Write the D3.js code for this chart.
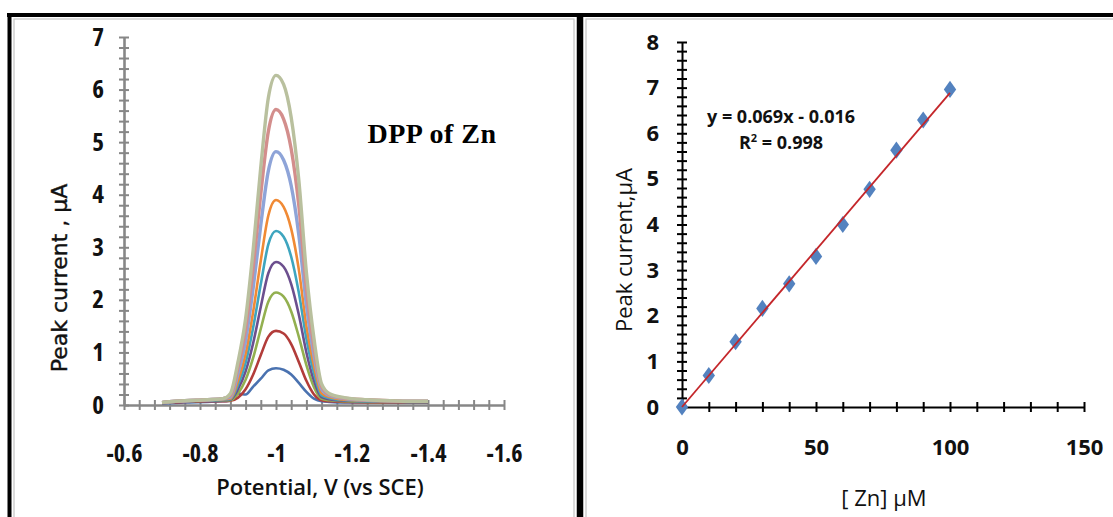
<!DOCTYPE html>
<html>
<head>
<meta charset="utf-8">
<script src="https://cdn.jsdelivr.net/npm/d3@7"></script>
<style>
  body { margin: 0; background: #fff; }
  svg { display: block; }
  .calib { font-family: 'Open Sans', sans-serif; font-stretch: 85%; }
  .calib-wide { font-family: 'Open Sans', sans-serif; font-stretch: 100%; }
</style>
</head>
<body>
<svg id="fig" width="1113" height="517"></svg>
<script>
// ---- data ----
var potentials = [-0.70, -0.76, -0.82, -0.86, -0.88, -0.90, -0.92, -0.94, -0.96, -0.98, -1.00,
                  -1.02, -1.04, -1.06, -1.08, -1.10, -1.12, -1.14, -1.18, -1.24, -1.30, -1.36, -1.40];

var curve1 = [0.03, 0.05, 0.06, 0.07, 0.08, 0.22, 0.20, 0.35, 0.50, 0.66, 0.70, 0.67, 0.58, 0.42, 0.25, 0.12, 0.07, 0.06, 0.05, 0.05, 0.05, 0.05, 0.05];
var curve2 = [0.04, 0.06, 0.07, 0.07, 0.08, 0.14, 0.30, 0.58, 0.95, 1.30, 1.41, 1.36, 1.16, 0.82, 0.46, 0.20, 0.09, 0.07, 0.06, 0.05, 0.05, 0.05, 0.05];
var curve3 = [0.04, 0.07, 0.08, 0.08, 0.09, 0.22, 0.48, 0.90, 1.45, 1.97, 2.14, 2.06, 1.78, 1.30, 0.76, 0.34, 0.12, 0.09, 0.07, 0.06, 0.06, 0.06, 0.06];
var curve4 = [0.05, 0.07, 0.09, 0.09, 0.10, 0.30, 0.64, 1.18, 1.87, 2.51, 2.72, 2.63, 2.30, 1.72, 1.00, 0.46, 0.15, 0.11, 0.08, 0.07, 0.06, 0.06, 0.06];
var curve5 = [0.05, 0.07, 0.09, 0.10, 0.11, 0.38, 0.80, 1.48, 2.30, 3.06, 3.31, 3.20, 2.82, 2.14, 1.26, 0.60, 0.18, 0.13, 0.09, 0.07, 0.07, 0.06, 0.06];
var curve6 = [0.05, 0.08, 0.10, 0.11, 0.12, 0.46, 0.97, 1.78, 2.75, 3.61, 3.90, 3.77, 3.35, 2.58, 1.50, 0.74, 0.22, 0.15, 0.10, 0.08, 0.07, 0.07, 0.07];
var curve7 = [0.05, 0.08, 0.10, 0.12, 0.15, 0.60, 1.22, 2.23, 3.43, 4.46, 4.82, 4.66, 4.17, 3.24, 1.90, 0.94, 0.30, 0.18, 0.12, 0.09, 0.08, 0.07, 0.07];
var curve8 = [0.05, 0.08, 0.10, 0.12, 0.18, 0.72, 1.45, 2.62, 4.02, 5.21, 5.62, 5.44, 4.87, 3.80, 2.22, 1.10, 0.35, 0.20, 0.13, 0.10, 0.08, 0.07, 0.07];
var curve9 = [0.05, 0.08, 0.10, 0.12, 0.22, 0.82, 1.64, 2.96, 4.53, 5.85, 6.27, 6.10, 5.47, 4.28, 2.52, 1.26, 0.40, 0.22, 0.14, 0.10, 0.08, 0.07, 0.07];
var curveColors = ["#4a72b0", "#b23c3a", "#93b050", "#6c4f8e", "#3ea5bf", "#f08a35", "#8ea4d8", "#d38e8c", "#b9c09e"];

var concentrations = [0, 10, 20, 30, 40, 50, 60, 70, 80, 90, 100];
var peakCurrents   = [0, 0.69, 1.43, 2.16, 2.70, 3.30, 4.00, 4.77, 5.63, 6.29, 6.96];
var fitSlope = 0.069, fitIntercept = -0.016;

var leftXTicks  = [-0.6, -0.8, -1, -1.2, -1.4, -1.6];
var leftYTicks  = [0, 1, 2, 3, 4, 5, 6, 7];
var rightXTicks = [0, 50, 100, 150];
var rightYTicks = [0, 1, 2, 3, 4, 5, 6, 7, 8];

var svg = d3.select("#fig");

// ---- frames ----
svg.append("rect").attr("x", 14).attr("y", 19).attr("width", 560).attr("height", 520)
   .attr("fill", "none").attr("stroke", "#c4c4c4").attr("stroke-width", 1.2);
svg.append("rect").attr("x", 586).attr("y", 19).attr("width", 540).attr("height", 520)
   .attr("fill", "none").attr("stroke", "#c4c4c4").attr("stroke-width", 1.2);
svg.append("line").attr("x1", 7).attr("x2", 1113).attr("y1", 15).attr("y2", 15)
   .attr("stroke", "#000").attr("stroke-width", 4);
svg.append("line").attr("x1", 9.5).attr("x2", 9.5).attr("y1", 13).attr("y2", 517)
   .attr("stroke", "#000").attr("stroke-width", 4);
svg.append("line").attr("x1", 580).attr("x2", 580).attr("y1", 13).attr("y2", 517)
   .attr("stroke", "#000").attr("stroke-width", 6.5);

// cross ticks (Excel "cross" tick marks) drawn with an axis shifted half a tick
function crossTicksX(scale, yPos, values, color)
{
  svg.append("g").attr("transform", "translate(0," + (yPos - 5) + ")")
     .call(d3.axisBottom(scale).tickValues(values).tickSize(10).tickFormat(""))
     .call(function(g) {
        g.select(".domain").remove();
        g.selectAll("line").attr("stroke", color).attr("stroke-width", 2);
     });
}
function crossTicksY(scale, xPos, values, color)
{
  svg.append("g").attr("transform", "translate(" + (xPos + 5) + ",0)")
     .call(d3.axisLeft(scale).tickValues(values).tickSize(10).tickFormat(""))
     .call(function(g) {
        g.select(".domain").remove();
        g.selectAll("line").attr("stroke", color).attr("stroke-width", 2);
     });
}

// styles the label axis: domain line + tick text
function styleAxis(g, color, width, cls, size)
{
  g.attr("font-family", null);
  g.select(".domain").attr("stroke", color).attr("stroke-width", width);
  g.selectAll("text").attr("class", cls).attr("font-weight", "bold")
   .attr("font-size", size).attr("fill", "#111");
}

// ================= left: DPP curves =================
var lx = d3.scaleLinear().domain([-0.6, -1.6]).range([124, 504]);
var ly = d3.scaleLinear().domain([0, 7]).range([405, 37]);
var leftGrey = "#878787";

crossTicksX(lx, ly(0), d3.range(26).map(function(i) {return -0.6 - i * 0.04;}), leftGrey);
crossTicksY(ly, lx(-0.6), d3.range(36).map(function(i) {return i * 0.2;}), leftGrey);

svg.append("g").attr("transform", "translate(0," + ly(0) + ")")
   .call(d3.axisBottom(lx).tickValues(leftXTicks).tickSize(0).tickPadding(40)
           .tickFormat(function(d) {return String(d);}))
   .call(styleAxis, leftGrey, 2.6, "calib", 24);
svg.append("g").attr("transform", "translate(" + lx(-0.6) + ",0)")
   .call(d3.axisLeft(ly).tickValues(leftYTicks).tickSize(0).tickPadding(20).tickFormat(d3.format("d")))
   .call(styleAxis, leftGrey, 2.6, "calib", 25);

var curves = [curve1, curve2, curve3, curve4, curve5, curve6, curve7, curve8, curve9];
var line = d3.line()
             .x(function(d) {return lx(d[0]);})
             .y(function(d) {return ly(d[1]);})
             .curve(d3.curveMonotoneX);

svg.append("g").selectAll("path")
   .data(curves).enter().append("path")
   .attr("d", function(c) {return line(c.map(function(v, i) {return [potentials[i], v];}));})
   .attr("fill", "none")
   .attr("stroke", function(c, i) {return curveColors[i];})
   .attr("stroke-width", function(c, i) {return i >= 6 ? 3.4 : 2.6;})
   .attr("stroke-linejoin", "round");

svg.append("text").attr("x", 432).attr("y", 143).attr("text-anchor", "middle")
   .attr("font-family", "'Liberation Serif', serif").attr("font-weight", "bold")
   .attr("font-size", 28).attr("letter-spacing", 0.5).text("DPP of Zn");

svg.append("text").attr("class", "calib").attr("x", 320).attr("y", 495).attr("text-anchor", "middle")
   .style("font-stretch", "92%").attr("font-weight", 600).attr("font-size", 22).attr("fill", "#111")
   .text("Potential, V (vs SCE)");
svg.append("text").attr("transform", "translate(67,278) rotate(-90)").attr("text-anchor", "middle")
   .attr("font-family", "'DejaVu Sans', sans-serif").attr("font-size", 22).attr("fill", "#111")
   .attr("stroke", "#111").attr("stroke-width", 0.4)
   .text("Peak current , µA");

// ================= right: calibration =================
var rx = d3.scaleLinear().domain([0, 150]).range([682, 1084]);
var ry = d3.scaleLinear().domain([0, 8]).range([407, 42]);

crossTicksX(rx, ry(0), d3.range(1, 16).map(function(i) {return i * 10;}), "#000");
crossTicksY(ry, rx(0), d3.range(41).map(function(i) {return i * 0.2;}), "#000");

svg.append("g").attr("transform", "translate(0," + ry(0) + ")")
   .call(d3.axisBottom(rx).tickValues(rightXTicks).tickSize(0).tickPadding(32))
   .call(styleAxis, "#000", 2, "calib-wide", 22);
svg.append("g").attr("transform", "translate(" + rx(0) + ",0)")
   .call(d3.axisLeft(ry).tickValues(rightYTicks).tickSize(0).tickPadding(23))
   .call(styleAxis, "#000", 2, "calib-wide", 22);

var diamond = d3.symbol().type(d3.symbolDiamond).size(85);
svg.append("g").selectAll("path")
   .data(concentrations).enter().append("path")
   .attr("d", diamond)
   .attr("transform", function(d, i) {return "translate(" + rx(d) + "," + ry(peakCurrents[i]) + ") scale(1.25,1)";})
   .attr("fill", "#5382bf");

svg.append("line")
   .attr("x1", rx(0)).attr("y1", ry(Math.max(0, fitIntercept)))
   .attr("x2", rx(100)).attr("y2", ry(fitSlope * 100 + fitIntercept))
   .attr("stroke", "#c4262a").attr("stroke-width", 1.8);

var eq = svg.append("g").attr("class", "calib-wide").attr("font-weight", "bold")
            .attr("font-size", 18).attr("fill", "#111").attr("text-anchor", "middle");
eq.append("text").attr("x", 781).attr("y", 123).text("y = 0.069x - 0.016");
var r2 = eq.append("text").attr("x", 781).attr("y", 149);
r2.append("tspan").text("R");
r2.append("tspan").attr("font-size", 11).attr("dy", -7).text("2");
r2.append("tspan").attr("dy", 7).text(" = 0.998");

svg.append("text").attr("class", "calib-wide").attr("x", 884).attr("y", 506).attr("text-anchor", "middle")
   .attr("font-size", 22).attr("fill", "#111")
   .text("[ Zn] µM");
svg.append("text").attr("class", "calib-wide").attr("transform", "translate(632,250) rotate(-90)")
   .attr("text-anchor", "middle").attr("font-size", 22).attr("fill", "#111")
   .text("Peak current,µA");
</script>
</body>
</html>
